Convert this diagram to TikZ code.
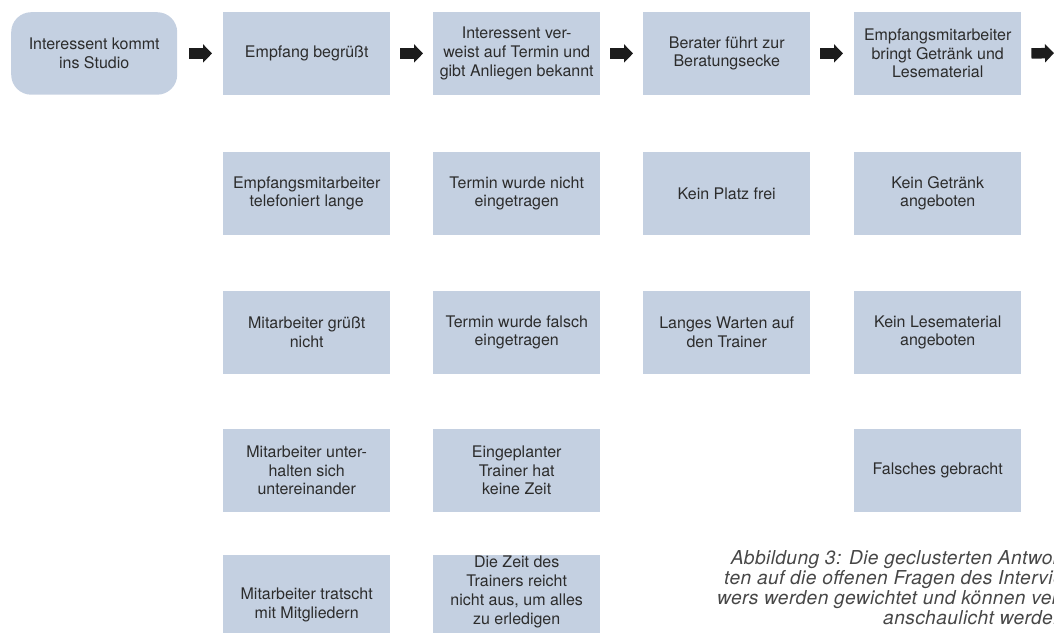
\documentclass[tikz,border=0pt]{standalone}
\usepackage{fontspec}
\setmainfont{TeX Gyre Heros}
\usetikzlibrary{arrows.meta}
\definecolor{boxfill}{HTML}{C4D0E1}
\definecolor{boxtext}{HTML}{2C2C2C}
\definecolor{arrowcol}{HTML}{1C1C1C}
\definecolor{captext}{HTML}{474747}
\tikzset{
  stepbox/.style={rectangle, fill=boxfill, draw=none, minimum width=167pt, minimum height=82.5pt,
    inner sep=0pt, align=center, text=boxtext, anchor=north west,
    font=\fontsize{16}{18.6}\selectfont},
  startbox/.style={stepbox, rounded corners=20pt, minimum width=166pt},
  flow/.style={draw=arrowcol, line width=10.5pt, -{Triangle[length=9pt,width=18pt]}},
  captionline/.style={anchor=base west, inner sep=0pt, text=captext,
    font=\fontsize{19.2}{20}\selectfont\itshape\addfontfeature{LetterSpace=2}}
}
\begin{document}
\begin{tikzpicture}[x=1pt,y=-1pt]
\useasboundingbox (0,0) rectangle (1054,632);
\clip (0,0) rectangle (1054,632);
% row 1
\node[startbox] (s) at (11,12) {Interessent kommt\\ins Studio};
\node[stepbox] (a1) at (223,12) {Empfang begrüßt};
\node[stepbox] (a2) at (433,12) {Interessent ver-\\weist auf Termin und\\gibt Anliegen bekannt};
\node[stepbox] (a3) at (643,12) {Berater führt zur\\Beratungsecke};
\node[stepbox] (a4) at (854,12) {Empfangsmitarbeiter\\bringt Getränk und\\Lesematerial};
\coordinate (end) at (1054,53);
% row 2
\node[stepbox] (b1) at (223,152) {Empfangsmitarbeiter\\telefoniert lange};
\node[stepbox] (b2) at (433,152) {Termin wurde nicht\\eingetragen};
\node[stepbox] (b3) at (643,152) {Kein Platz frei};
\node[stepbox] (b4) at (854,152) {Kein Getränk\\angeboten};
% row 3
\node[stepbox] (c1) at (223,291) {Mitarbeiter grüßt\\nicht};
\node[stepbox] (c2) at (433,291) {Termin wurde falsch\\eingetragen};
\node[stepbox] (c3) at (643,291) {Langes Warten auf\\den Trainer};
\node[stepbox] (c4) at (854,291) {Kein Lesematerial\\angeboten};
% row 4
\node[stepbox] (d1) at (223,429) {Mitarbeiter unter-\\halten sich\\untereinander};
\node[stepbox] (d2) at (433,429) {Eingeplanter\\Trainer hat\\keine Zeit};
\node[stepbox] (d4) at (854,429) {Falsches gebracht};
% row 5
\node[stepbox, minimum height=99pt] (e1) at (223,555) {Mitarbeiter tratscht\\mit Mitgliedern};
\node[stepbox, minimum height=99pt,
  label={[name=e2t, yshift=12.5pt, align=center, text=boxtext,
          font=\fontsize{16}{18.9}\selectfont]center:Die Zeit des\\Trainers reicht\\nicht aus, um alles\\zu erledigen}] (e2) at (433,555) {};
% arrows
\draw[flow] ([xshift=12pt]s.east) -- ([xshift=-11pt]a1.west);
\draw[flow] ([xshift=10pt]a1.east) -- ([xshift=-10pt]a2.west);
\draw[flow] ([xshift=10pt]a2.east) -- ([xshift=-10pt]a3.west);
\draw[flow] ([xshift=10pt]a3.east) -- ([xshift=-11pt]a4.west);
\draw[flow] ([xshift=10pt]a4.east) -- (end);
% caption
\node[captionline] (cap1) at (730.7,564.3) {Abbildung 3: Die geclusterten Antwor-};
\node[captionline] (cap2) at (724,584.3) {ten auf die offenen Fragen des Intervie-};
\node[captionline] (cap3) at (717,604.3) {wers werden gewichtet und können ver-};
\node[captionline] (cap4) at (883,624.3) {anschaulicht werden.};
\end{tikzpicture}
\end{document}
